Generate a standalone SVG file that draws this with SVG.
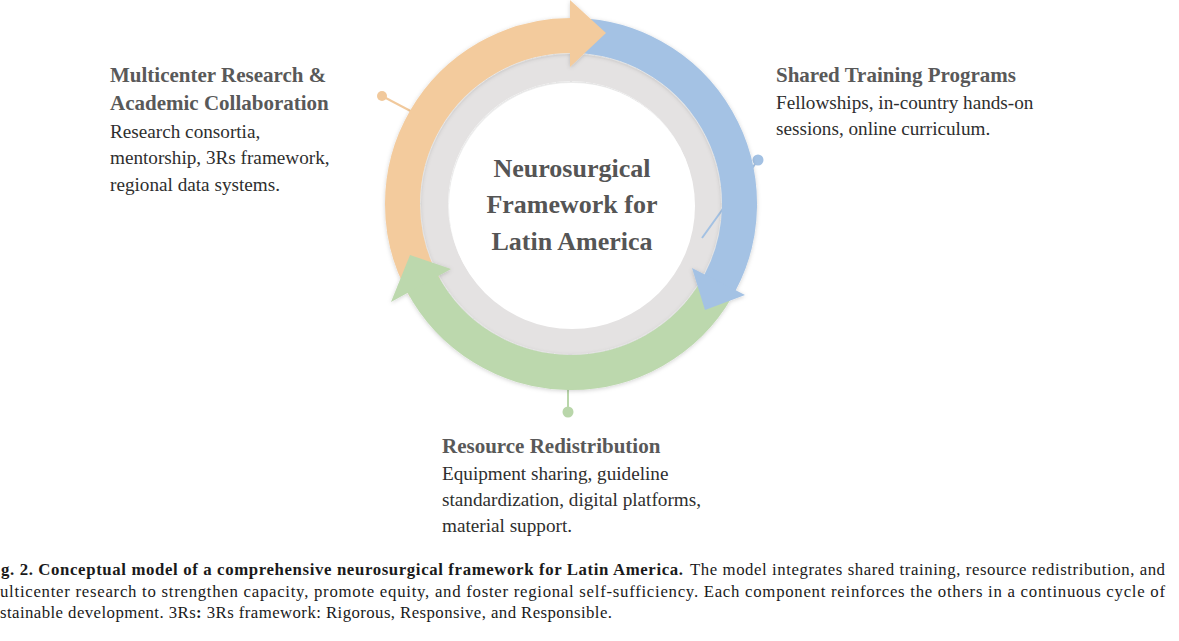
<svg xmlns="http://www.w3.org/2000/svg" width="1179" height="641" viewBox="0 0 1179 641">
<style>
.title{font-family:"Liberation Serif","Times New Roman",serif;font-weight:bold;font-size:21px;fill:#595959}
.body{font-family:"Liberation Serif","Times New Roman",serif;font-size:19.2px;fill:#2e2e2e}
.center{font-family:"Liberation Serif","Times New Roman",serif;font-weight:bold;font-size:26px;fill:#555555}
.cap{font-family:"Liberation Serif","Times New Roman",serif;font-size:16.8px;fill:#1a1a1a}
.capb{font-weight:bold}
.band{fill:none;stroke-width:35;stroke-linecap:butt}
</style>
<defs>
<filter id="sh" x="-20%" y="-20%" width="140%" height="140%">
<feDropShadow dx="0" dy="1" stdDeviation="2" flood-color="#000" flood-opacity="0.18"/>
</filter>
</defs>
<rect width="1179" height="641" fill="#ffffff"/>
<g id="hub">
<circle cx="571" cy="204" r="136.5" fill="none" stroke="#e4e2e2" stroke-width="27" filter="url(#sh)"/>
<circle cx="572" cy="206" r="123" fill="#ffffff"/>
<text class="center" x="572" y="177" text-anchor="middle">Neurosurgical</text>
<text class="center" x="572" y="213" text-anchor="middle">Framework for</text>
<text class="center" x="572" y="250" text-anchor="middle">Latin America</text>
</g>
<g id="connectors" stroke-width="2">
<line x1="382" y1="96" x2="420" y2="116" stroke="#f1c99c"/>
<circle cx="382" cy="96" r="5" fill="#f1c99c"/>
<line x1="758" y1="160" x2="702" y2="238" stroke="#a3c1e3"/>
<circle cx="758" cy="160" r="5.5" fill="#a3c1e3"/>
<line x1="568" y1="412" x2="568" y2="380" stroke="#b9d6aa"/>
<circle cx="568" cy="412" r="5.5" fill="#b9d6aa"/>
</g>
<g id="cycle" filter="url(#sh)">
<path class="band" stroke="#f3cb9d" d="M 425.1 288.3 A 168.5 168.5 0 0 1 572 35.5"/>
<path class="band" stroke="#a4c2e4" d="M 576.9 35.6 A 168.5 168.5 0 0 1 719.8 283.1"/>
<path class="band" stroke="#bcd8ad" d="M 716.9 288.3 A 168.5 168.5 0 0 1 422.2 283.1"/>
<polygon fill="#f3cb9d" points="570,0 606,33 570,67"/>
<polygon fill="#a4c2e4" points="692,268 745,295 705,310"/>
<polygon fill="#bcd8ad" points="391,302 410,255 451,269"/>
</g>
<g id="research">
<text class="title" x="110" y="82">Multicenter Research &amp;</text>
<text class="title" x="110" y="110">Academic Collaboration</text>
<text class="body" x="110" y="138">Research consortia,</text>
<text class="body" x="110" y="164">mentorship, 3Rs framework,</text>
<text class="body" x="110" y="191">regional data systems.</text>
</g>
<g id="training">
<text class="title" x="776" y="82">Shared Training Programs</text>
<text class="body" x="776" y="109">Fellowships, in-country hands-on</text>
<text class="body" x="776" y="135">sessions, online curriculum.</text>
</g>
<g id="resources">
<text class="title" x="442" y="453">Resource Redistribution</text>
<text class="body" x="442" y="480">Equipment sharing, guideline</text>
<text class="body" x="442" y="506">standardization, digital platforms,</text>
<text class="body" x="442" y="532">material support.</text>
</g>
<g id="caption">
<text class="cap capb" x="1" y="575" textLength="682" lengthAdjust="spacing">g. 2.  Conceptual model of a comprehensive neurosurgical framework for Latin America.</text>
<text class="cap" x="690" y="575" textLength="475" lengthAdjust="spacing">The model integrates shared training, resource redistribution, and</text>
<text class="cap" x="0" y="597" textLength="1165" lengthAdjust="spacing">ulticenter research to strengthen capacity, promote equity, and foster regional self-sufficiency. Each component reinforces the others in a continuous cycle of</text>
<text class="cap" x="0" y="618" textLength="612" lengthAdjust="spacing">stainable development. 3Rs<tspan class="capb">:</tspan> 3Rs framework: Rigorous, Responsive, and Responsible.</text>
</g>
</svg>
